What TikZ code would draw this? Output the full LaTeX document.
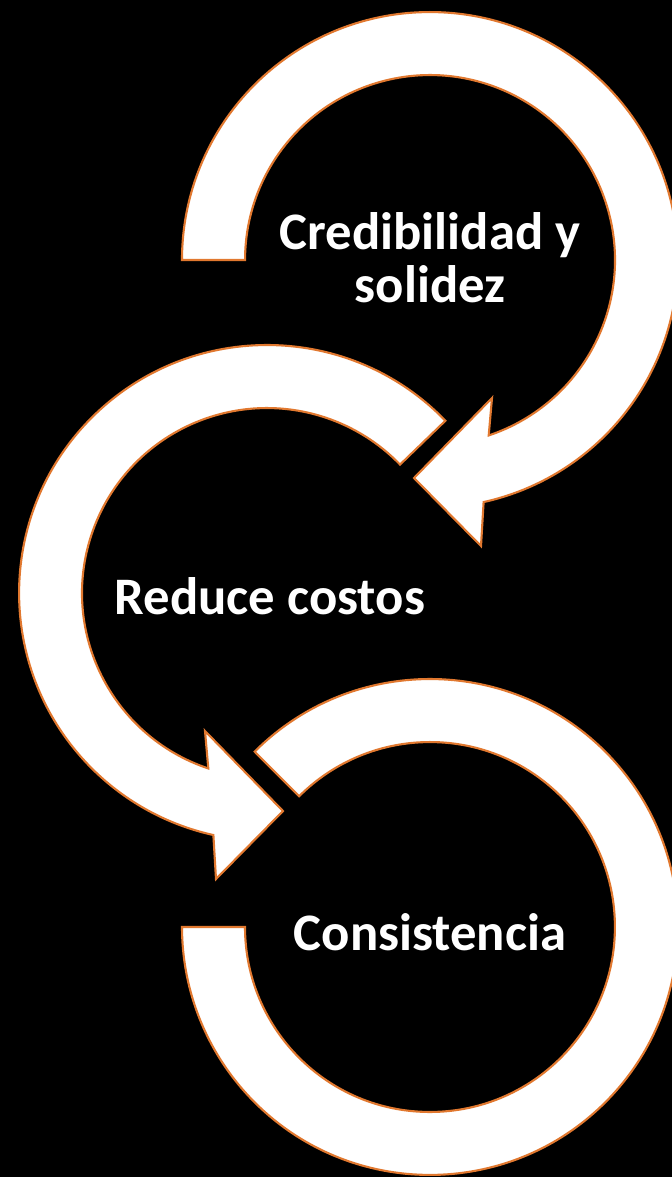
\documentclass[tikz,border=0pt]{standalone}
\usepackage{fontspec}
\setmainfont{Carlito}
\usetikzlibrary{calc}
\definecolor{Acolor}{HTML}{E1782F}
\tikzstyle{band} = [fill=white, draw=Acolor, line width=1.2pt, line join=miter]
\tikzstyle{cycletext} = [text=white, font=\bfseries\fontsize{30}{30}\selectfont, align=center, inner sep=0pt]

\begin{document}
\begin{tikzpicture}[x=0.02cm, y=0.02cm]

\useasboundingbox (0,0) rectangle (672,-1177);
\clip (0,0) rectangle (672,-1177);
\fill[black] (0,0) rectangle (672,-1177);

\coordinate (c1) at (430,-260);
\coordinate (c2) at (267,-593);
\coordinate (c3) at (430,-927);

\draw [band] ([shift={(180:248)}]c1) arc[start angle=180, end angle=-77.5, radius=4.96cm]
  -- ($(c1)+(51,-286)$) -- ($(c1)+(-16,-218)$) -- ($(c1)+(62,-138)$)
  -- ([shift={(-71.5:185)}]c1) arc[start angle=-71.5, end angle=180, radius=3.7cm] -- cycle;

\draw [band] ([shift={(44:248)}]c2) arc[start angle=44, end angle=257.5, radius=4.96cm]
  -- ($(c2)+(-51,-286)$) -- ($(c2)+(16,-218)$) -- ($(c2)+(-62,-138)$)
  -- ([shift={(251.5:185)}]c2) arc[start angle=251.5, end angle=44, radius=3.7cm] -- cycle;

\draw [band] ([shift={(135:248)}]c3) arc[start angle=135, end angle=-180, radius=4.96cm]
  -- ([shift={(-180:185)}]c3) arc[start angle=-180, end angle=135, radius=3.7cm] -- cycle;

\node (credib) [cycletext] at (430,-258) {Credibilidad y\\solidez};
\node (reduce) [cycletext, anchor=base] at (270,-614) {Reduce costos};
\node (consist) [cycletext, anchor=base] at (430,-950) {Consistencia};

\end{tikzpicture}
\end{document}
